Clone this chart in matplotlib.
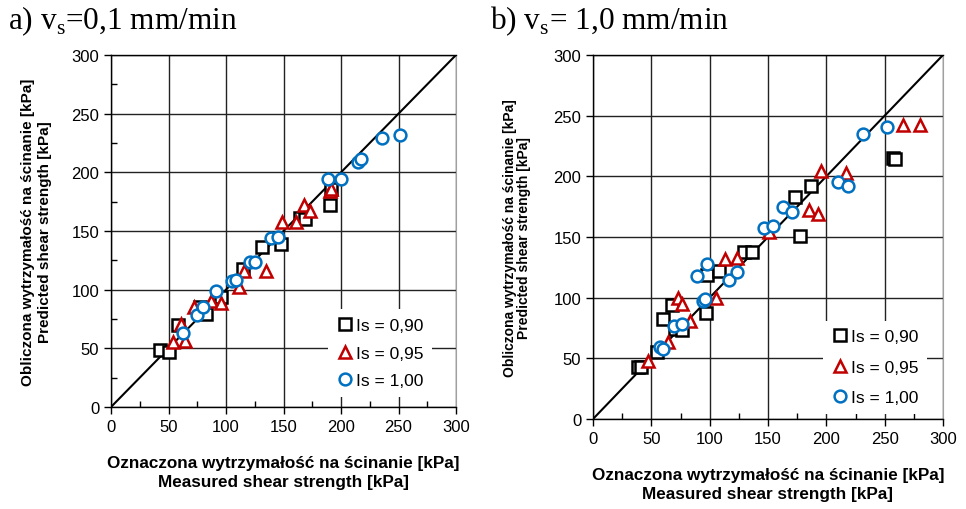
import matplotlib
matplotlib.use("Agg")
import matplotlib.pyplot as plt
from matplotlib.ticker import MultipleLocator

plt.rcParams['font.family'] = ['Liberation Sans', 'DejaVu Sans']

# ---- data: panel a) v_s = 0,1 mm/min ----
a_sq_x = [43, 50, 58, 77, 83, 96, 114.5, 131, 148, 164, 169, 190, 191]
a_sq_y = [49, 47, 70, 85, 79, 94, 118, 136, 139, 161, 160, 172, 186]
a_tri_x = [54, 64, 61, 72.5, 87, 96, 111.5, 115.5, 134.5, 149, 160.5, 168, 173, 190, 191]
a_tri_y = [55, 56, 71, 85, 90, 89, 102, 115.5, 116, 157.5, 157.5, 172.5, 167, 184.5, 186]
a_circ_x = [63, 74.5, 80, 91, 105.5, 109, 121, 125, 139, 145, 189, 200, 214.5, 217, 235.5, 251]
a_circ_y = [63, 78.5, 85.5, 99, 107, 108.5, 123.5, 124, 144, 144.5, 194.5, 194, 208.5, 211.5, 229, 232]

# ---- data: panel b) v_s = 1,0 mm/min ----
b_sq_x = [38.5, 41, 55, 60, 68, 70, 76.5, 96.5, 98, 108, 129.5, 136.5, 173.5, 177.5, 187, 257.5, 259]
b_sq_y = [42.5, 42.5, 55, 82.5, 94, 74.5, 73.5, 87, 118.5, 122, 138, 137.5, 183, 150.5, 192, 215, 214.5]
b_tri_x = [47, 64.5, 73, 76.5, 83, 105.5, 113.5, 123, 150.5, 185, 193, 195.5, 217, 266, 280.5]
b_tri_y = [48, 63.5, 100, 95, 81, 99.5, 132, 132.5, 154.5, 172, 169, 204.5, 202.5, 242, 242]
b_circ_x = [57, 60, 69.5, 76, 94.5, 96, 89.5, 98, 116.5, 123.5, 146.5, 154.5, 162.5, 170.5, 210, 218.5, 231, 252]
b_circ_y = [59.5, 58, 76.5, 78, 97, 99, 117.5, 127.5, 114.5, 121.5, 157.5, 159, 175, 171, 195, 192, 235, 241]

series_labels = ["Is = 0,90", "Is = 0,95", "Is = 1,00"]
ticks = [0, 50, 100, 150, 200, 250, 300]
ylabel = "Obliczona wytrzymałość na ścinanie [kPa]\nPredicted shear strength [kPa]"
xlabel = "Oznaczona wytrzymałość na ścinanie [kPa]\nMeasured shear strength [kPa]"

fig = plt.figure(figsize=(9.66, 5.10), dpi=100)
axA = fig.add_axes([111/966, 1-408/510, 345/966, 352/510])
axB = fig.add_axes([593/966, 1-420/510, 350/966, 364/510])

def draw(ax, sx, sy, tx, ty, cx, cy, ylab_size, ylab_pad, ylab_ls, leg_center, leg_sp, ygrid_minor):
    ax.set_xlim(0, 300)
    ax.set_ylim(0, 300)
    ax.set_xticks(ticks)
    ax.set_yticks(ticks)
    ax.xaxis.set_minor_locator(MultipleLocator(25))
    if ygrid_minor:
        ax.yaxis.set_minor_locator(MultipleLocator(25))
    ax.grid(True, which='major', color='#222222', lw=1.0)
    ax.set_axisbelow(True)
    ax.plot([0, 300], [0, 300], color='black', lw=1.5, zorder=2)
    mk = dict(ls='none', markerfacecolor='white', markersize=8.5, markeredgewidth=1.8)
    ax.plot(sx, sy, marker='s', markeredgecolor='black', label=series_labels[0], zorder=3, **mk)
    ax.plot(tx, ty, marker='^', markeredgecolor='#C00000', label=series_labels[1], zorder=4, **mk)
    ax.plot(cx, cy, marker='o', markeredgecolor='#0070C0', label=series_labels[2], zorder=5, **mk)
    ax.tick_params(which='major', direction='out', length=5, width=1, labelsize=12, colors='black')
    ax.tick_params(which='minor', direction='in', length=4, width=1)
    for s in ['left', 'bottom', 'top']:
        ax.spines[s].set_color('black')
        ax.spines[s].set_linewidth(1.0)
    ax.spines['right'].set_color('#a0a0a0')
    ax.set_ylabel(ylabel, fontsize=ylab_size, fontweight='bold', linespacing=ylab_ls,
                  labelpad=ylab_pad)
    ax.set_xlabel(xlabel, fontsize=12.3, fontweight='bold', linespacing=1.4, labelpad=15)
    leg = ax.legend(loc='center', bbox_to_anchor=leg_center, fontsize=12.5, frameon=True,
                    fancybox=False, framealpha=1, facecolor='white', edgecolor='none',
                    handlelength=0.9, handletextpad=0.2, borderpad=0.5, labelspacing=leg_sp,
                    borderaxespad=0)
    leg.set_zorder(10)

draw(axA, a_sq_x, a_sq_y, a_tri_x, a_tri_y, a_circ_x, a_circ_y, 11, 14, 1.3,
     (0.781, 0.153), 0.72, True)
draw(axB, b_sq_x, b_sq_y, b_tri_x, b_tri_y, b_circ_x, b_circ_y, 10, 16, 1.05,
     (0.806, 0.142), 0.88, False)

fig.text(8/966, 1-29/510, "a) v$_\\mathregular{s}$=0,1 mm/min", family='Liberation Serif',
         fontsize=22.5, ha='left', va='baseline')
fig.text(490/966, 1-29/510, "b) v$_\\mathregular{s}$= 1,0 mm/min", family='Liberation Serif',
         fontsize=22.5, ha='left', va='baseline')

fig.savefig("out.png", dpi=100)
